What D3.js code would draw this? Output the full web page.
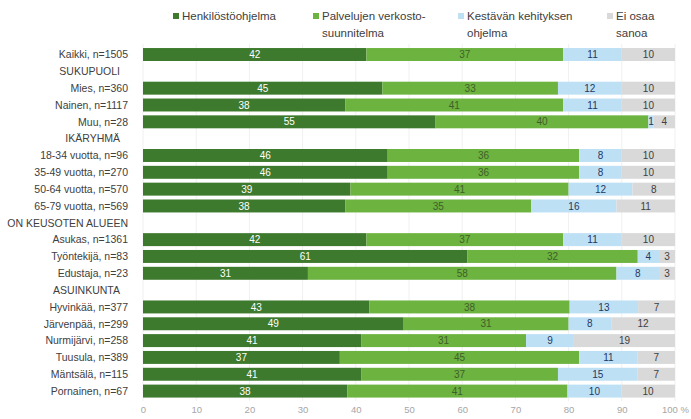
<!DOCTYPE html>
<html>
<head>
<meta charset="utf-8">
<script src="https://cdn.jsdelivr.net/npm/d3@7"></script>
<style>
  html, body { margin: 0; padding: 0; background: #ffffff; }
  svg { display: block; font-family: "Liberation Sans", Arial, sans-serif; }
</style>
</head>
<body>
<svg id="chart" width="691" height="419"></svg>
<script>
// ---- Data ----
const categories = [
  "Kaikki, n=1505", "SUKUPUOLI", "Mies, n=360", "Nainen, n=1117", "Muu, n=28",
  "IKÄRYHMÄ", "18-34 vuotta, n=96", "35-49 vuotta, n=270", "50-64 vuotta, n=570", "65-79 vuotta, n=569",
  "ON KEUSOTEN ALUEEN", "Asukas, n=1361", "Työntekijä, n=83", "Edustaja, n=23",
  "ASUINKUNTA", "Hyvinkää, n=377", "Järvenpää, n=299", "Nurmijärvi, n=258", "Tuusula, n=389",
  "Mäntsälä, n=115", "Pornainen, n=67"
];
const headers = ["SUKUPUOLI", "IKÄRYHMÄ", "ON KEUSOTEN ALUEEN", "ASUINKUNTA"];
const henkilosto = [42, null, 45, 38, 55, null, 46, 46, 39, 38, null, 42, 61, 31, null, 43, 49, 41, 37, 41, 38];
const palvelu    = [37, null, 33, 41, 40, null, 36, 36, 41, 35, null, 37, 32, 58, null, 38, 31, 31, 45, 37, 41];
const kestava    = [11, null, 12, 11, 1,  null, 8,  8,  12, 16, null, 11, 4,  8,  null, 13, 8,  9,  11, 15, 10];
const eiOsaa     = [10, null, 10, 10, 4,  null, 10, 10, 8,  11, null, 10, 3,  3,  null, 7,  12, 19, 7,  7,  10];
const seriesNames = ["Henkilöstöohjelma", "Palvelujen verkosto-\nsuunnitelma", "Kestävän kehityksen\nohjelma", "Ei osaa\nsanoa"];
const xTicks = [0, 10, 20, 30, 40, 50, 60, 70, 80, 90, 100];

// ---- Styles ----
const colors = ["#3e7a2d", "#6db33f", "#bee0f5", "#d9d9d9"];
const labelColors = ["#ffffff", "#3f5f2a", "#1f3864", "#404040"];

const svg = d3.select("#chart");
const x = d3.scaleLinear().domain([0, 100]).range([143, 675]);
const y = d3.scaleBand().domain(categories).range([46.1, 399.5]).paddingInner(0.23).paddingOuter(0.115);

// gridlines
svg.append("g").selectAll("line").data(xTicks).join("line")
  .attr("x1", d => x(d)).attr("x2", d => x(d))
  .attr("y1", 44).attr("y2", 401)
  .attr("stroke", "#f0f0f0").attr("stroke-width", 1);

// stacked data (100 % stacked: normalised by row total)
const rows = categories.map((c, i) => ({
  cat: c, vals: [henkilosto[i], palvelu[i], kestava[i], eiOsaa[i]]
})).filter(r => r.vals[0] !== null);

const segs = [];
rows.forEach(r => {
  const total = d3.sum(r.vals);
  let acc = 0;
  r.vals.forEach((v, k) => {
    const p = v / total * 100;
    segs.push({ cat: r.cat, k, v, x0: acc, x1: acc + p });
    acc += p;
  });
});

svg.append("g").selectAll("rect").data(segs).join("rect")
  .attr("x", d => x(d.x0))
  .attr("width", d => x(d.x1) - x(d.x0))
  .attr("y", d => y(d.cat))
  .attr("height", y.bandwidth())
  .attr("fill", d => colors[d.k]);

svg.append("g").selectAll("text").data(segs).join("text")
  .attr("x", d => (x(d.x0) + x(d.x1)) / 2)
  .attr("y", d => y(d.cat) + y.bandwidth() / 2)
  .attr("dy", "0.36em")
  .attr("text-anchor", "middle")
  .attr("font-size", 10)
  .attr("fill", d => labelColors[d.k])
  .text(d => d.v);

// category labels
svg.append("g").selectAll("text").data(categories).join("text")
  .attr("x", d => headers.includes(d) && d !== "ON KEUSOTEN ALUEEN" ? 120 : 128)
  .attr("y", d => y(d) + y.bandwidth() / 2)
  .attr("dy", "0.36em")
  .attr("text-anchor", "end")
  .attr("font-size", 10.5)
  .attr("fill", "#404040")
  .text(d => d);

// x axis
const xAxis = d3.axisBottom(x).tickValues(xTicks).tickSize(0).tickPadding(0)
  .tickFormat(d => d === 100 ? "100 %" : d);
const gx = svg.append("g").attr("transform", "translate(0,406)").call(xAxis);
gx.select(".domain").remove();
gx.selectAll("text").attr("font-size", 9.5).attr("fill", "#a6a6a6")
  .attr("font-family", "Liberation Sans, Arial, sans-serif");

// legend
const legendX = [173, 313, 458, 607];
const lg = svg.append("g");
seriesNames.forEach((name, k) => {
  lg.append("rect").attr("x", legendX[k]).attr("y", 13).attr("width", 6).attr("height", 6)
    .attr("fill", colors[k]);
  const t = lg.append("text").attr("x", legendX[k] + 9).attr("y", 20)
    .attr("font-size", 11.5).attr("fill", "#404040");
  name.split("\n").forEach((line, j) => {
    t.append("tspan").attr("x", legendX[k] + 9).attr("dy", j === 0 ? 0 : 16.5).text(line);
  });
});
</script>
</body>
</html>
